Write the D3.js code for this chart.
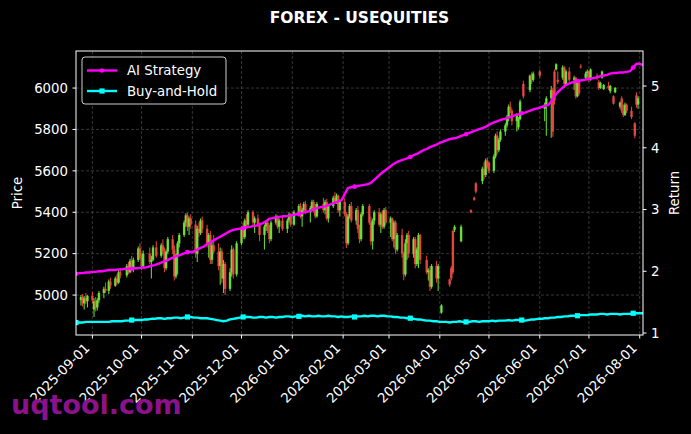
<!DOCTYPE html>
<html><head><meta charset="utf-8">
<script src="https://cdn.jsdelivr.net/npm/d3@7"></script>
<style>
body{margin:0;background:#000;}
svg{display:block;font-family:"DejaVu Sans",sans-serif;}
</style>
</head><body>
<svg id="c" width="691" height="434"></svg>
<script>
// ---------------- data ----------------
const chartTitle = "FOREX - USEQUITIES";
const startDate = "2025-08-22";
const endDate = "2026-08-03";
const monthTicks = ["2025-09-01","2025-10-01","2025-11-01","2025-12-01","2026-01-01","2026-02-01","2026-03-01","2026-04-01","2026-05-01","2026-06-01","2026-07-01","2026-08-01"];
const priceTicks = [5000,5200,5400,5600,5800,6000];
const returnTicks = [1,2,3,4,5];
const seriesNames = ["AI Strategy","Buy-and-Hold"];

// daily OHLC (one entry per weekday from startDate; null = no bar)
const open = [null,
4975,4990,4960,4985,4970, 4995,4930,4970,4940,4975, 5010,5030,null,5020,5065, 5045,5080,5060,5110,null, 5095,5140,5110,5165,5135,
5170,5225,5180,5140,null, 5200,5160,5170,null,5230, 5190,5240,5210,5130,5210, 5270,5220,5090,5190,5250, 5290,5350,5385,5330,5370,
5340,5200,5320,5300,5360, 5320,5250,5290,5170,5240, 5210,5140,5210,5080,5150, 5030,5110,5220,null,5100, 5250,5320,5280,5360,5340,
5400,5350,null,5370,5340, 5290,5330,5350,5310,5270, 5350,5380,5330,null,5360, 5320,5360,5390,null,5340, 5400,5430,5380,5410,5440,
5400,5420,5450,5410,5380, null,5440,5410,5450,5370, 5430,5470,5450,5480,5410, 5450,5390,5250,5380,5430, 5360,5410,5320,5270,5390,
null,5430,5350,5260,5360, 5400,5340,5390,5330,5410, 5350,5370,5270,5350,5220, 5290,5200,5100,5250,5290, 5200,5270,5150,5220,5290,
null,5170,5110,5120,5040, 5140,5080,null,4915,null, null,5075,5130,5310,5315, null,5260,null,null,null, 5410,null,5470,5540,null,
5550,5610,5580,5650,5640, 5600,5670,5770,5700,5750, 5790,5820,5860,5910,5890, 5840,5810,5850,null,6020, null,5990,6060,6040,null,
6080,null,null,5900,5920, 5950,5990,6080,6090,6040, 6050,6100,6020,null,6080, 6040,6050,5960,6030,6105, 6050,6070,6080,6040,null,
6060,6030,6000,6050,5995, 6010,5985,null,5960,5980, 5910,5950,5890,5870,5920, 5890,null,5830,5965,5920,
null];
const high = [null,
5000,5005,4995,5010,5000, 5015,4985,4990,4985,5020, 5040,5060,null,5075,5085, 5090,5100,5120,5130,null, 5150,5160,5175,5190,5180,
5235,5250,5200,5215,null, 5230,5190,5240,null,5260, 5250,5270,5230,5220,5280, 5290,5240,5200,5260,5300, 5360,5395,5398,5380,5390,
5360,5335,5350,5370,5380, 5340,5300,5310,5260,5290, 5250,5230,5225,5170,5160, 5130,5240,5230,null,5260, 5330,5350,5370,5390,5410,
5410,5380,null,5390,5350, 5340,5360,5365,5340,5360, 5390,5385,5370,null,5380, 5370,5400,5395,null,5410, 5440,5445,5420,5450,5455,
5430,5460,5460,5440,5450, null,5470,5460,5465,5440, 5480,5497,5490,5485,5460, 5470,5400,5390,5440,5450, 5420,5430,5340,5400,5440,
null,5440,5380,5370,5410, 5420,5400,5410,5420,5425, 5380,5375,5360,5360,5300, 5320,5210,5270,5300,5310, 5280,5280,5230,5300,5295,
null,5190,5130,5140,5150, 5165,5150,null,4955,null, null,5080,5140,5315,5338, null,5340,null,null,null, 5415,null,5475,5545,null,
5620,5640,5660,5665,5642, 5680,5780,5790,5760,5800, 5830,5870,5920,5935,5900, 5880,5860,5945,null,6035, null,6065,6075,6080,null,
6088,null,null,5930,5960, 6010,6000,6090,6120,6080, 6110,6105,6090,null,6100, 6060,6055,6040,6035,6115, 6080,6090,6085,6095,null,
6070,6040,6030,6085,6020, 6030,6015,null,5965,6005, 5935,5960,5920,5930,5925, 5910,null,5835,5980,5960,
null];
const low = [null,
4950,4945,4930,4955,4940, 4960,4894,4920,4925,4960, 4985,5010,null,5005,5030, 5040,5050,5055,5080,null, 5085,5100,5105,5120,5110,
5160,5170,5120,5130,null, 5150,5080,5165,null,5180, 5180,5200,5110,5120,5200, 5200,5070,5080,5100,5230, 5280,5330,5310,5290,5320,
5180,5160,5280,5290,5300, 5230,5180,5150,5150,5200, 5120,5050,5060,5010,5000, 5020,5090,5080,null,5090, 5240,5270,5270,5320,5330,
5330,5300,null,5330,5260, 5220,5310,5300,5250,5260, 5340,5320,5300,null,5310, 5300,5350,5330,null,5335, 5380,5370,5330,5400,5390,
5350,5410,5400,5370,5375, null,5400,5390,5360,5350, 5420,5440,5440,5400,5380, 5380,5227,5240,5370,5350, 5340,5300,5250,5260,5380,
null,5340,5240,5220,5340, 5330,5300,5320,5320,5340, 5280,5260,5230,5200,5210, 5180,5072,5090,5170,5180, 5180,5130,5140,5130,5150,
null,5100,5070,5020,5030, 5060,5020,null,4910,null, null,5040,5070,5100,5305, null,5255,null,null,null, 5395,null,5455,5490,null,
5535,5560,5570,5610,5590, 5590,5660,5680,5690,5740, 5770,5810,5840,5880,5820, 5790,5800,5845,null,5950, null,5980,6020,6030,null,
6050,null,null,5840,5770, 5760,5765,5920,6085,6020, 6040,6000,6015,null,6030, 5990,5950,5955,5965,6095, 6040,6050,6030,6035,null,
6040,5990,5995,6045,5990, 5990,5975,null,5920,5975, 5900,5880,5860,5865,5880, 5850,null,5758,5905,5900,
null];
const close = [null,
4990,4960,4985,4970,4995, 4975,4970,4940,4975,5010, 5030,5020,null,5065,5045, 5080,5060,5110,5095,null, 5140,5110,5165,5135,5170,
5225,5180,5140,5200,null, 5160,5170,5230,null,5190, 5240,5210,5130,5210,5270, 5220,5090,5190,5250,5290, 5350,5385,5330,5370,5340,
5200,5320,5300,5360,5320, 5250,5290,5170,5240,5210, 5140,5210,5080,5150,5030, 5110,5220,5100,null,5250, 5320,5280,5360,5340,5400,
5350,5370,null,5340,5290, 5330,5350,5310,5270,5350, 5380,5330,5360,null,5320, 5360,5390,5340,null,5400, 5430,5380,5410,5440,5400,
5420,5450,5410,5380,5440, null,5410,5450,5370,5430, 5470,5450,5480,5410,5450, 5390,5250,5380,5430,5360, 5410,5320,5270,5390,5430,
null,5350,5260,5360,5400, 5340,5390,5330,5410,5350, 5370,5270,5350,5220,5290, 5200,5100,5250,5290,5200, 5270,5150,5220,5290,5170,
null,5110,5120,5040,5140, 5080,5140,null,4950,null, null,5050,5080,5110,5330, null,5330,null,null,null, 5400,null,5460,5500,null,
5610,5580,5650,5620,5600, 5670,5770,5700,5750,5790, 5820,5860,5910,5890,5840, 5870,5850,5935,null,5960, null,6060,6040,6070,null,
6060,null,null,5920,5950, 5990,5790,5940,6115,6030, 6100,6020,6080,null,6040, 6050,5960,6030,5975,6100, 6070,6080,6040,6090,null,
6050,6000,6025,6080,6015, 6000,6010,null,5925,6000, 5930,5890,5870,5920,5890, 5860,null,5770,5920,5950,
null];

// cumulative return, one value every 2 calendar days from startDate
const aiStrategy = [
1.96,1.97,1.97,1.98,1.98,1.99,1.99,2.00,2.00,2.01,
2.02,2.02,2.02,2.03,2.03,2.04,2.04,2.04,2.05,2.05,
2.06,2.06,2.07,2.09,2.10,2.12,2.14,2.16,2.18,2.21,
2.23,2.25,2.27,2.29,2.31,2.31,2.32,2.35,2.38,2.40,
2.44,2.47,2.50,2.53,2.56,2.59,2.62,2.65,2.67,2.68,
2.69,2.70,2.71,2.72,2.73,2.74,2.76,2.78,2.81,2.85,
2.86,2.87,2.88,2.89,2.89,2.90,2.91,2.92,2.93,2.94,
2.96,2.97,2.99,3.01,3.03,3.04,3.05,3.07,3.09,3.11,
3.13,3.15,3.25,3.35,3.36,3.37,3.38,3.39,3.40,3.41,
3.43,3.48,3.53,3.58,3.62,3.66,3.70,3.74,3.77,3.79,
3.81,3.83,3.85,3.88,3.90,3.93,3.96,3.98,4.01,4.03,
4.05,4.08,4.10,4.12,4.14,4.15,4.16,4.18,4.20,4.22,
4.24,4.26,4.28,4.30,4.32,4.34,4.37,4.40,4.42,4.44,
4.46,4.47,4.49,4.51,4.53,4.54,4.56,4.57,4.59,4.61,
4.63,4.64,4.66,4.68,4.69,4.75,4.84,4.90,4.95,5.00,
5.03,5.05,5.07,5.08,5.09,5.10,5.11,5.12,5.13,5.14,
5.16,5.17,5.18,5.20,5.21,5.21,5.22,5.22,5.23,5.24,
5.30,5.36,5.36,5.34];
const buyHold = [
1.17,1.17,1.17,1.18,1.18,1.18,1.18,1.18,1.18,1.18,
1.18,1.19,1.19,1.19,1.19,1.20,1.20,1.21,1.21,1.21,
1.21,1.22,1.22,1.23,1.23,1.24,1.24,1.23,1.24,1.24,
1.25,1.25,1.24,1.25,1.26,1.26,1.25,1.25,1.24,1.24,
1.24,1.23,1.22,1.21,1.20,1.19,1.20,1.22,1.23,1.24,
1.25,1.26,1.26,1.26,1.25,1.25,1.26,1.26,1.25,1.26,
1.26,1.25,1.26,1.26,1.27,1.27,1.26,1.27,1.27,1.28,
1.27,1.28,1.27,1.27,1.28,1.27,1.27,1.28,1.27,1.27,
1.26,1.27,1.26,1.26,1.27,1.26,1.27,1.27,1.28,1.27,
1.28,1.28,1.27,1.28,1.28,1.27,1.27,1.26,1.26,1.25,
1.25,1.24,1.24,1.23,1.22,1.22,1.21,1.20,1.20,1.19,
1.19,1.18,1.18,1.18,1.17,1.18,1.18,1.19,1.18,1.18,
1.18,1.19,1.19,1.18,1.19,1.19,1.19,1.20,1.19,1.20,
1.20,1.20,1.21,1.20,1.21,1.21,1.21,1.20,1.21,1.22,
1.22,1.23,1.23,1.24,1.24,1.25,1.25,1.26,1.26,1.27,
1.27,1.28,1.28,1.28,1.29,1.29,1.29,1.30,1.30,1.30,
1.31,1.31,1.30,1.31,1.31,1.31,1.30,1.31,1.31,1.31,
1.32,1.32,1.32,1.32];

// ---------------- layout ----------------
const W = 691, H = 434;
const M = {left:76, right:643, top:51, bottom:335};
const FS = 13.3;
const colUp = "#6ee83c", colDown = "#ec4a40";
const colAI = "#ff00ff", colBH = "#00ffff";

const svg = d3.select("#c");
svg.append("rect").attr("width", W).attr("height", H).attr("fill", "#000");

const parse = d3.utcParse("%Y-%m-%d");
const t0 = parse(startDate), t1 = parse(endDate);
const x = d3.scaleUtc().domain([t0, t1]).range([M.left, M.right]);
const yP = d3.scaleLinear().domain([4807, 6179]).range([M.bottom, M.top]);
const yR = d3.scaleLinear().domain([0.968, 5.567]).range([M.bottom, M.top]);

const tradingDays = d3.utcDay.range(t0, d3.utcDay.offset(t1, 1)).filter(d => d.getUTCDay() % 6 !== 0);
const lineDates = aiStrategy.map((_, i) => d3.utcDay.offset(t0, 2 * i));

svg.append("defs").append("clipPath").attr("id", "plot")
  .append("rect").attr("x", M.left).attr("y", M.top)
  .attr("width", M.right - M.left).attr("height", M.bottom - M.top);

// grid
const grid = svg.append("g").attr("stroke", "#5a5a5a").attr("stroke-width", 0.6).attr("stroke-dasharray", "3,2");
monthTicks.forEach(s => {
  const xx = x(parse(s));
  grid.append("line").attr("x1", xx).attr("x2", xx).attr("y1", M.top).attr("y2", M.bottom);
});
priceTicks.forEach(v => {
  const yy = yP(v);
  grid.append("line").attr("x1", M.left).attr("x2", M.right).attr("y1", yy).attr("y2", yy);
});

// candles
const cg = svg.append("g").attr("clip-path", "url(#plot)");
tradingDays.forEach((d, i) => {
  if (open[i] == null) return;
  const o = open[i], c = close[i], h = high[i], l = low[i];
  const col = c >= o ? colUp : colDown;
  const xx = x(d);
  cg.append("line").attr("x1", xx).attr("x2", xx).attr("y1", yP(h)).attr("y2", yP(l))
    .attr("stroke", col).attr("stroke-width", 1.1).attr("opacity", 0.9);
  const yt = yP(Math.max(o, c)), yb = yP(Math.min(o, c));
  cg.append("rect").attr("x", xx - 1.2).attr("width", 2.4).attr("y", yt)
    .attr("height", Math.max(1, yb - yt)).attr("fill", col).attr("opacity", 0.9);
});

// lines
const lg = svg.append("g").attr("clip-path", "url(#plot)");
const line = d3.line().x((d, i) => x(lineDates[i])).y(d => yR(d));
lg.append("path").datum(aiStrategy).attr("d", line).attr("fill", "none")
  .attr("stroke", colAI).attr("stroke-width", 2.4).attr("stroke-linejoin", "round");
lg.append("path").datum(buyHold).attr("d", line).attr("fill", "none")
  .attr("stroke", colBH).attr("stroke-width", 2.4).attr("stroke-linejoin", "round");
const every = 17;
aiStrategy.forEach((v, i) => {
  if (i % every) return;
  lg.append("circle").attr("cx", x(lineDates[i])).attr("cy", yR(v)).attr("r", 2.3).attr("fill", colAI);
});
buyHold.forEach((v, i) => {
  if (i % every) return;
  lg.append("rect").attr("x", x(lineDates[i]) - 2.6).attr("y", yR(v) - 2.6)
    .attr("width", 5.2).attr("height", 5.2).attr("fill", colBH);
});

// spines
svg.append("rect").attr("x", M.left).attr("y", M.top).attr("width", M.right - M.left)
  .attr("height", M.bottom - M.top).attr("fill", "none").attr("stroke", "#fff").attr("stroke-width", 1);

// axes ticks & labels
const ax = svg.append("g").attr("fill", "#fff").attr("font-size", FS);
monthTicks.forEach(s => {
  const xx = x(parse(s));
  ax.append("line").attr("x1", xx).attr("x2", xx).attr("y1", M.bottom).attr("y2", M.bottom + 3.5).attr("stroke", "#fff");
  ax.append("text").attr("text-anchor", "end")
    .attr("transform", `translate(${xx - 2},${M.bottom + 14}) rotate(-45)`).text(s);
});
priceTicks.forEach(v => {
  const yy = yP(v);
  ax.append("line").attr("x1", M.left - 3.5).attr("x2", M.left).attr("y1", yy).attr("y2", yy).attr("stroke", "#fff");
  ax.append("text").attr("x", M.left - 8).attr("y", yy).attr("dy", "0.36em").attr("text-anchor", "end").text(v);
});
returnTicks.forEach(v => {
  const yy = yR(v);
  ax.append("line").attr("x1", M.right).attr("x2", M.right + 3.5).attr("y1", yy).attr("y2", yy).attr("stroke", "#fff");
  ax.append("text").attr("x", M.right + 8).attr("y", yy).attr("dy", "0.36em").attr("text-anchor", "start").text(v);
});
ax.append("text").attr("text-anchor", "middle").attr("transform", `translate(22,${(M.top + M.bottom) / 2}) rotate(-90)`).text("Price");
ax.append("text").attr("text-anchor", "middle").attr("transform", `translate(679,${(M.top + M.bottom) / 2}) rotate(-90)`).text("Return");

// title
svg.append("text").attr("x", (M.left + M.right) / 2).attr("y", 23).attr("text-anchor", "middle")
  .attr("fill", "#fff").attr("font-size", 15.5).attr("font-weight", "bold").text(chartTitle);

// legend
const leg = svg.append("g");
leg.append("rect").attr("x", 82).attr("y", 57).attr("width", 144).attr("height", 47).attr("rx", 3)
  .attr("fill", "#000").attr("fill-opacity", 0.8).attr("stroke", "#cccccc").attr("stroke-width", 1);
[[colAI, 70.5, "circle"], [colBH, 91, "square"]].forEach(([col, yy, mk], k) => {
  leg.append("line").attr("x1", 87).attr("x2", 117).attr("y1", yy).attr("y2", yy).attr("stroke", col).attr("stroke-width", 2.4);
  if (mk === "circle") leg.append("circle").attr("cx", 102).attr("cy", yy).attr("r", 2.3).attr("fill", col);
  else leg.append("rect").attr("x", 99.4).attr("y", yy - 2.6).attr("width", 5.2).attr("height", 5.2).attr("fill", col);
  leg.append("text").attr("x", 127).attr("y", yy).attr("dy", "0.36em").attr("fill", "#fff").attr("font-size", FS).text(seriesNames[k]);
});

// watermark
svg.append("text").attr("x", 11).attr("y", 414).attr("fill", "#8b128b").attr("font-size", 27)
  .attr("font-weight", "bold").text("uqtool.com");
</script>
</body></html>
